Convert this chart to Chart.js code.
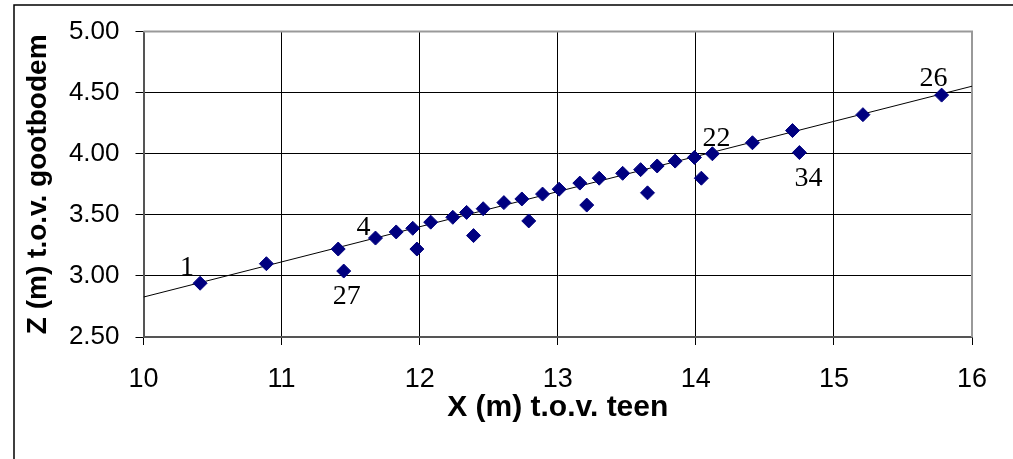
<!DOCTYPE html>
<html>
<head>
<meta charset="utf-8">
<script src="https://cdn.jsdelivr.net/npm/chart.js@4/dist/chart.umd.min.js"></script>
<style>
  html, body { margin: 0; padding: 0; background: #fff; }
  #wrap { width: 1013px; height: 459px; }
</style>
</head>
<body>
<div id="wrap"><canvas id="c" width="1013" height="459"></canvas></div>
<script>
// Measured profile: horizontal position (m from toe) and height (m above gutter bottom)
const xValues = [10.41, 10.89, 11.41, 11.45, 11.68, 11.83, 11.95, 11.98, 12.08, 12.24,
                 12.34, 12.39, 12.46, 12.61, 12.74, 12.79, 12.89, 13.01, 13.16, 13.21,
                 13.30, 13.47, 13.60, 13.65, 13.72, 13.85, 13.99, 14.04, 14.12, 14.41,
                 14.70, 14.75, 15.21, 15.78];
const zValues = [2.94, 3.10, 3.22, 3.04, 3.31, 3.36, 3.39, 3.22, 3.44, 3.48,
                 3.52, 3.33, 3.55, 3.60, 3.63, 3.45, 3.67, 3.71, 3.76, 3.58,
                 3.80, 3.84, 3.87, 3.68, 3.90, 3.94, 3.97, 3.80, 4.00, 4.09,
                 4.19, 4.01, 4.32, 4.48];

// Linear trend line endpoints
const trendX = [10, 16];
const trendZ = [2.827, 4.553];

// Point numbers written next to selected measurements
const pointNumbers = ["1", "27", "4", "22", "34", "26"];
const pointIndex   = [0, 3, 4, 28, 31, 33];

// Axis ticks
const xTicks = [10, 11, 12, 13, 14, 15, 16];
const yTicks = [2.5, 3.0, 3.5, 4.0, 4.5, 5.0];

const labelOffsets = [[-13, -16], [3, 26], [-12, -10], [4, -15], [9, 26], [-8, -16]];

const numberLabels = {
  id: 'numberLabels',
  afterDatasetsDraw(chart) {
    const ctx = chart.ctx;
    const xs = chart.scales.x, ys = chart.scales.y;
    ctx.save();
    ctx.font = '28px "Liberation Serif", "Times New Roman", serif';
    ctx.fillStyle = '#000';
    ctx.textAlign = 'center';
    ctx.textBaseline = 'middle';
    pointNumbers.forEach((txt, k) => {
      const i = pointIndex[k];
      const px = xs.getPixelForValue(xValues[i]);
      const py = ys.getPixelForValue(zValues[i]);
      ctx.fillText(txt, px + labelOffsets[k][0], py + labelOffsets[k][1]);
    });
    ctx.restore();
  }
};

const frames = {
  id: 'frames',
  beforeDraw(chart) {
    const ctx = chart.ctx;
    ctx.save();
    ctx.strokeStyle = '#000';
    ctx.lineWidth = 1.5;
    ctx.beginPath();
    ctx.moveTo(14, 470);
    ctx.lineTo(14, 5);
    ctx.lineTo(1020, 5);
    ctx.stroke();
    ctx.restore();
  },
  beforeDatasetsDraw(chart) {
    const {ctx, chartArea: a} = chart;
    ctx.save();
    ctx.strokeStyle = '#999';
    ctx.lineWidth = 2;
    ctx.beginPath();
    ctx.moveTo(a.left, a.top);
    ctx.lineTo(a.right, a.top);
    ctx.lineTo(a.right, a.bottom);
    ctx.stroke();
    ctx.restore();
  }
};

new Chart(document.getElementById('c'), {
  type: 'scatter',
  data: {
    datasets: [
      {
        type: 'line',
        data: trendX.map((x, i) => ({x, y: trendZ[i]})),
        borderColor: '#000',
        borderWidth: 1,
        pointRadius: 0,
        fill: false,
        order: 2
      },
      {
        data: xValues.map((x, i) => ({x, y: zValues[i]})),
        pointStyle: 'rectRot',
        pointRadius: 7,
        backgroundColor: '#000080',
        borderColor: '#000080',
        borderWidth: 1,
        order: 1
      }
    ]
  },
  options: {
    responsive: false,
    animation: false,
    devicePixelRatio: 1,
    layout: { padding: { left: 0, top: 29, right: 41, bottom: 0 } },
    plugins: { legend: { display: false }, tooltip: { enabled: false } },
    scales: {
      x: {
        type: 'linear',
        min: 10, max: 16,
        afterBuildTicks(s) { s.ticks = xTicks.map(v => ({value: v})); },
        afterFit(s) { s.height = 122; },
        grid: { color: '#000', lineWidth: 1, tickLength: 8, drawOnChartArea: true },
        border: { color: '#555', width: 2 },
        ticks: {
          color: '#000',
          font: { family: '"Liberation Sans", Arial, sans-serif', size: 27 },
          padding: 18,
          maxRotation: 0,
          callback: v => String(v)
        },
        title: {
          display: true,
          text: 'X (m) t.o.v. teen',
          color: '#000',
          font: { family: '"Liberation Sans", Arial, sans-serif', size: 30, weight: 'bold', lineHeight: 1.2 },
          padding: { top: 0, bottom: 33 }
        }
      },
      y: {
        type: 'linear',
        min: 2.5, max: 5,
        afterBuildTicks(s) { s.ticks = yTicks.map(v => ({value: v})); },
        afterFit(s) { s.width = 143.5; },
        grid: { color: '#000', lineWidth: 1, tickLength: 8 },
        border: { color: '#555', width: 2 },
        ticks: {
          color: '#000',
          font: { family: '"Liberation Sans", Arial, sans-serif', size: 26 },
          padding: 16,
          callback: v => v.toFixed(2)
        },
        title: {
          display: true,
          text: 'Z (m) t.o.v. gootbodem',
          color: '#000',
          font: { family: '"Liberation Sans", Arial, sans-serif', size: 28, weight: 'bold', lineHeight: 1.2 },
          padding: { top: 21, bottom: 0 }
        }
      }
    }
  },
  plugins: [frames, numberLabels]
});
</script>
</body>
</html>
